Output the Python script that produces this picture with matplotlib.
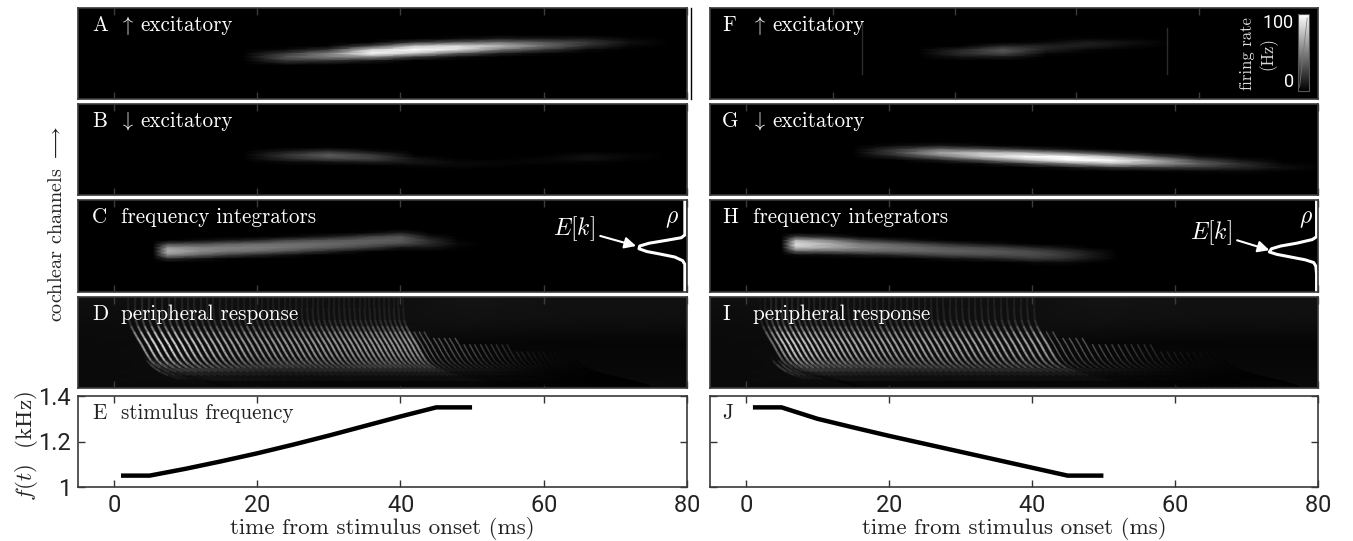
import numpy as np
from matplotlib import pyplot as plt
from matplotlib import cm, colors
from matplotlib.collections import LineCollection
from matplotlib.lines import Line2D

plt.rcParams["mathtext.fontset"] = "cm"
plt.rcParams["axes.formatter.use_mathtext"] = True
SERIF = "cmr10"
W, H = 1353, 541

# stimulus frequency (kHz)
up_t = [1, 5, 10, 15, 20, 25, 30, 35, 40, 45, 50]
up_f = [1.05, 1.05, 1.08, 1.113, 1.148, 1.186, 1.226, 1.268, 1.31, 1.35, 1.35]
down_t = [1, 5, 10, 15, 20, 25, 30, 35, 40, 45, 50]
down_f = [1.35, 1.35, 1.30, 1.262, 1.225, 1.19, 1.155, 1.12, 1.085, 1.05, 1.05]

# firing rates (Hz), one line per time step; channel = fraction of panel from top
a_t = [18, 24, 30, 36, 42, 48, 54, 60, 66, 72, 78]
a_ch = [.30, .34, .38, .42, .46, .50, .54, .58, .62]
a_rate = [
    [0, 0, 0, 0, 0, 1, 3, 2, 1],
    [0, 0, 0, 1, 6, 20, 30, 20, 6],
    [0, 0, 0, 4, 19, 43, 43, 19, 4],
    [0, 0, 3, 24, 68, 85, 45, 11, 1],
    [0, 3, 20, 64, 98, 64, 20, 3, 0],
    [1, 7, 32, 72, 72, 32, 7, 1, 0],
    [2, 12, 39, 60, 39, 12, 2, 0, 0],
    [2, 11, 30, 37, 20, 5, 1, 0, 0],
    [3, 11, 21, 17, 6, 1, 0, 0, 0],
    [2, 5, 8, 5, 2, 0, 0, 0, 0],
    [0, 1, 1, 1, 0, 0, 0, 0, 0],
]
b_t = [18, 24, 30, 36, 42, 48, 54, 60, 66, 72, 78]
b_ch = [.44, .48, .52, .56, .60, .64, .68, .72, .76]
b_rate = [
    [0, 0, 1, 2, 1, 0, 0, 0, 0],
    [0, 3, 10, 19, 16, 6, 1, 0, 0],
    [0, 4, 17, 32, 26, 9, 2, 0, 0],
    [0, 2, 7, 20, 24, 12, 3, 0, 0],
    [0, 0, 1, 3, 8, 10, 5, 1, 0],
    [0, 0, 0, 1, 3, 6, 6, 3, 1],
    [0, 0, 0, 1, 3, 5, 4, 1, 0],
    [0, 0, 0, 2, 5, 5, 2, 0, 0],
    [0, 0, 2, 7, 9, 5, 1, 0, 0],
    [0, 0, 2, 5, 5, 2, 0, 0, 0],
    [0, 0, 0, 1, 1, 0, 0, 0, 0],
]
f_t = [24, 30, 36, 42, 48, 54, 60, 66, 72, 78]
f_ch = [.30, .34, .38, .42, .46, .50, .54, .58, .62]
f_rate = [
    [0, 0, 0, 0, 0, 0, 0, 0, 0],
    [0, 0, 0, 1, 14, 17, 9, 2, 0],
    [0, 0, 3, 15, 30, 26, 11, 2, 0],
    [0, 1, 6, 14, 13, 6, 1, 0, 0],
    [1, 5, 12, 12, 5, 1, 0, 0, 0],
    [1, 4, 8, 6, 2, 0, 0, 0, 0],
    [0, 1, 3, 2, 1, 0, 0, 0, 0],
    [0, 0, 1, 1, 0, 0, 0, 0, 0],
    [0, 0, 0, 1, 2, 1, 0, 0, 0],
    [0, 0, 0, 1, 2, 1, 0, 0, 0],
]
g_t = [15, 21, 27, 33, 39, 45, 51, 57, 63, 69, 75, 81]
g_ch = [.42, .46, .50, .54, .58, .62, .66, .70, .74, .78]
g_rate = [
    [0, 0, 0, 0, 0, 0, 0, 0, 0, 0],
    [1, 7, 20, 24, 13, 3, 0, 0, 0, 0],
    [2, 11, 36, 55, 36, 11, 2, 0, 0, 0],
    [1, 6, 29, 65, 65, 29, 6, 1, 0, 0],
    [0, 3, 18, 59, 90, 59, 18, 3, 0, 0],
    [0, 1, 8, 40, 90, 90, 40, 8, 1, 0],
    [0, 0, 3, 18, 60, 92, 60, 18, 3, 0],
    [0, 0, 0, 6, 28, 57, 50, 20, 4, 1],
    [0, 0, 0, 1, 8, 25, 34, 20, 5, 1],
    [0, 0, 0, 0, 2, 9, 18, 15, 6, 1],
    [0, 0, 0, 0, 0, 1, 5, 8, 4, 1],
    [0, 0, 0, 0, 0, 0, 0, 2, 1, 0],
]
c_t = [5.5, 7.5, 12, 16, 20, 24, 28, 32, 36, 40, 44, 48, 52]
c_ch = [.32, .36, .40, .44, .48, .52, .56, .60, .64, .68, .72]
c_rate = [
    [0, 0, 0, 0, 0, 1, 2, 1, 0, 0, 0],
    [0, 0, 0, 3, 25, 50, 58, 46, 16, 3, 0],
    [0, 0, 0, 7, 27, 44, 46, 33, 9, 2, 0],
    [0, 0, 1, 11, 33, 43, 40, 22, 4, 0, 0],
    [0, 0, 2, 15, 36, 42, 36, 15, 2, 0, 0],
    [0, 0, 5, 24, 37, 39, 28, 8, 1, 0, 0],
    [0, 1, 9, 28, 37, 34, 19, 4, 0, 0, 0],
    [0, 2, 15, 31, 35, 28, 10, 1, 0, 0, 0],
    [1, 6, 24, 33, 31, 20, 4, 0, 0, 0, 0],
    [2, 13, 29, 32, 26, 9, 1, 0, 0, 0, 0],
    [0, 2, 9, 17, 16, 9, 2, 0, 0, 0, 0],
    [0, 0, 1, 4, 6, 4, 1, 0, 0, 0, 0],
    [0, 0, 0, 0, 0, 0, 0, 0, 0, 0, 0],
]
h_t = [5, 7, 12, 16, 20, 24, 28, 32, 36, 40, 44, 48, 52]
h_ch = [.36, .40, .44, .48, .52, .56, .60, .64, .68, .72]
h_rate = [
    [0, 0, 1, 3, 1, 0, 0, 0, 0, 0],
    [2, 21, 58, 72, 63, 31, 6, 1, 0, 0],
    [1, 12, 42, 56, 54, 32, 7, 1, 0, 0],
    [0, 4, 23, 41, 45, 34, 11, 2, 0, 0],
    [0, 2, 14, 34, 40, 34, 14, 2, 0, 0],
    [0, 1, 7, 26, 36, 34, 20, 4, 0, 0],
    [0, 0, 3, 17, 30, 33, 25, 8, 1, 0],
    [0, 0, 1, 11, 27, 32, 27, 11, 2, 0],
    [0, 0, 1, 7, 22, 30, 27, 15, 3, 0],
    [0, 0, 0, 3, 15, 26, 27, 20, 6, 1],
    [0, 0, 0, 1, 9, 19, 22, 18, 7, 1],
    [0, 0, 0, 0, 3, 10, 12, 10, 4, 1],
    [0, 0, 0, 0, 0, 1, 2, 2, 1, 0],
]

# dim floor of the peripheral panels
floor_t = [-5, 10, 25, 40, 50, 65, 80]
floor_ch = [0, .25, .5, .75, 1]
floor_level = [
    [6, 5, 4, 4, 4],
    [6, 6, 5, 5, 4],
    [6, 6, 5, 5, 4],
    [6, 6, 5, 5, 4],
    [8, 7, 3, 4, 4],
    [7, 6, 2, 3, 4],
    [7, 6, 2, 3, 4],
]

# peripheral stripes: crossing times at the top channels, and shape along the channels
shape_ch = [0, .12, .25, .32, .38, .45, .52, .6, .66, .7, .74, .78, .82, .86, .92, .98]
shape_dt = [0, 0, .1, .4, .8, 1.3, 1.85, 2.4, 2.85, 3.2, 3.7, 4.5, 5.8, 7.6, 11, 13.5]
shape_level = [.14, .16, .2, .32, .62, .8, .85, .8, .7, .58, .42, .28, .16, .1, .05, .02]
cross_ch = [.66, .70, .74, .78, .82, .86, .90, .95]
cross_dt = [-1.6, -1.2, -.7, -.1, .7, 1.8, 3.4, 5.5]
cross_level = [.03, .1, .22, .26, .2, .12, .07, .03]

d_stripes = [2.0, 2.95, 3.9, 4.85, 5.8, 6.73, 7.65, 8.56, 9.47, 10.37, 11.26, 12.15, 13.03, 13.9,
             14.77, 15.63, 16.48, 17.33, 18.17, 19.0, 19.83, 20.65, 21.46, 22.27, 23.07, 23.86,
             24.65, 25.43, 26.2, 26.97, 27.73, 28.48, 29.23, 29.97, 30.7, 31.43, 32.15, 32.87,
             33.58, 34.29, 34.99, 35.68, 36.37, 37.05, 37.73, 38.4, 39.07, 39.73, 40.39]
d_gain = [.7, .9, 1, 1, 1, .95, .95, .9, .9, .85, .85, .8, .8, .75, .75, .75, .7, .7, .7, .7,
          .7, .7, .7, .7, .7, .7, .7, .7, .7, .7, .7, .7, .7, .7, .7, .7, .7, .7, .7, .7,
          .7, .7, .7, .7, .7, .7, .7, .7, .65]
d_tail = [41.1, 41.8, 42.5, 43.3, 44, 44.8, 45.5, 46.3, 47, 47.8, 48.5, 49.3, 50, 50.8, 51.5,
          52.3, 53, 53.8, 54.5, 55.3, 56, 56.8, 57.5, 58.3, 59, 59.8, 60.5, 61.3]
d_tail_gain = [.45, .45, .42, .42, .4, .4, .38, .38, .35, .35, .3, .3, .26, .26, .24, .22, .2,
               .18, .16, .14, .12, .1, .09, .07, .06, .05, .04, .03]
d_tail_top = [.34, .36, .38, .40, .42, .43, .44, .45, .46, .47, .48, .49, .5, .5, .51, .52, .52,
              .53, .53, .54, .54, .55, .55, .56, .56, .57, .57, .58]

i_stripes = [2.0, 2.75, 3.5, 4.25, 5.0, 5.76, 6.52, 7.28, 8.05, 8.82, 9.59, 10.37, 11.15, 11.93,
             12.72, 13.51, 14.31, 15.11, 15.91, 16.72, 17.53, 18.35, 19.17, 20.0, 20.83, 21.66,
             22.5, 23.34, 24.19, 25.04, 25.9, 26.76, 27.63, 28.5, 29.38, 30.26, 31.15, 32.04,
             32.94, 33.84, 34.75, 35.66, 36.58, 37.5, 38.43, 39.36, 40.3]
i_gain = [.5, .7, .9, .95, .95, .9, .9, .9, .85, .85, .85, .85, .8, .8, .8, .8, .8, .8, .75, .75,
          .75, .75, .75, .75, .75, .75, .75, .75, .75, .75, .75, .75, .75, .75, .75, .75, .75,
          .75, .75, .75, .75, .75, .75, .75, .75, .75, .7]
i_tail = [41.2, 42.1, 43, 43.9, 44.8, 45.7, 46.6, 47.5, 48.4, 49.3, 50.2, 51.1, 52, 52.9, 53.8,
          54.7, 55.6, 56.5, 57.4, 58.3, 59.2, 60.1, 61, 61.9, 62.8, 63.7]
i_tail_gain = [.45, .45, .42, .42, .4, .4, .38, .36, .34, .32, .3, .28, .26, .24, .22, .2, .18,
               .16, .14, .12, .1, .08, .07, .06, .05, .03]
i_tail_top = [.34, .36, .39, .42, .44, .45, .46, .47, .48, .49, .5, .5, .51, .51, .52, .52, .53,
              .53, .54, .54, .55, .55, .56, .56, .57, .57]

# inset curve rho (time axis, channel fraction)
c_rho_t = [79.7, 79.7, 79.7, 79.4, 78.3, 76.4, 74.4, 73.3, 73.4, 74.7, 77, 79.2, 79.7, 79.7]
c_rho_ch = [1.0, .78, .70, .66, .62, .59, .56, .53, .50, .47, .44, .41, .38, 0.0]
h_rho_t = [79.8, 79.8, 79.7, 79.4, 78.2, 76.2, 74.2, 73.2, 73.5, 74.8, 77, 79.2, 79.8, 79.8]
h_rho_ch = [1.0, .80, .72, .68, .65, .62, .59, .565, .53, .50, .47, .43, .40, 0.0]

xticks_time = [0, 20, 40, 60, 80]
xticks_f = [12.2, 29.2, 46.2, 63.3]
yticks_f = [1, 1.2, 1.4]
ytick_labels = ["1", "1.2", "1.4"]
letters = ["A", "B", "C", "D", "E", "F", "G", "H", "I", "J"]
titles = [r"$\uparrow$ excitatory", r"$\downarrow$ excitatory", "frequency integrators",
          "peripheral response", "stimulus frequency"]


def panel(left, top, right, bottom):
    return fig.add_axes([left / W, 1 - bottom / H, (right - left) / W, (bottom - top) / H])


def show_grid(ax, t, ch, values, vmin=3, vmax=82):
    ax.pcolormesh(t, ch, np.array(values).T, cmap="gray", vmin=vmin, vmax=vmax, shading="gouraud")


def draw_family(ax, starts, gains, chs, dts, levels, tops=None, lw=1.35):
    segs, cols = [], []
    for k, (t0, g) in enumerate(zip(starts, gains)):
        for j in range(len(chs) - 1):
            if tops is not None and chs[j] < tops[k]:
                continue
            segs.append([(t0 + dts[j], chs[j]), (t0 + dts[j + 1], chs[j + 1])])
            cols.append(min(1, g * (levels[j] + levels[j + 1]) / 2))
    cols = np.array(cols)
    ax.add_collection(LineCollection(segs, colors=np.c_[cols, cols, cols, np.full(len(cols), .2)],
                                     linewidths=lw * 1.7, capstyle="butt"))
    ax.add_collection(LineCollection(segs, colors=np.c_[cols, cols, cols], linewidths=lw, capstyle="butt"))


def dress(ax, ticks=xticks_time):
    ax.set_xlim(-5, 80)
    ax.set_ylim(1, 0)
    ax.set_xticks(ticks)
    ax.set_yticks([])
    ax.tick_params(axis="x", direction="in", top=True, length=5, width=1, color="#3c3c3c", labelbottom=False)
    for s in ax.spines.values():
        s.set_color("#3a3a3a")
        s.set_linewidth(1.2)


def label(ax, letter, title, xl, color="white", y=.81):
    ax.text(xl, y, letter, transform=ax.transAxes, color=color, family=SERIF, fontsize=15.2, va="center")
    if title.startswith("$"):
        arrow, word = title.split(" ", 1)
        ax.text(.067, y, arrow, transform=ax.transAxes, color=color, fontsize=14.5, va="center")
        ax.text(.102, y, word, transform=ax.transAxes, color=color, family=SERIF, fontsize=15.2, va="center")
    else:
        ax.text(.0706, y, title, transform=ax.transAxes, color=color, family=SERIF, fontsize=15.2, va="center")


def peripheral(ax, stripes, gain, tail, tail_gain, tail_top):
    show_grid(ax, floor_t, floor_ch, floor_level, 0, 100)
    draw_family(ax, stripes[4:], gain[4:], cross_ch, cross_dt, cross_level)
    draw_family(ax, tail, tail_gain, cross_ch, cross_dt, cross_level, lw=.9)
    draw_family(ax, stripes, gain, shape_ch, shape_dt, shape_level)
    draw_family(ax, tail, tail_gain, shape_ch, shape_dt, shape_level, tail_top, lw=.9)


fig = plt.figure(figsize=(W / 100, H / 100), dpi=100)
rows = [(8, 99), (104, 195), (200, 292), (297, 388), (396, 487)]
cols = [(78, 687), (710, 1318)]

# left column
for i, (top, bot) in enumerate(rows[:4]):
    ax = panel(cols[0][0], top, cols[0][1], bot)
    ax.set_facecolor("black")
    if i == 0:
        show_grid(ax, a_t, a_ch, a_rate)
    elif i == 1:
        show_grid(ax, b_t, b_ch, b_rate)
    elif i == 2:
        show_grid(ax, c_t, c_ch, c_rate)
        ax.plot(c_rho_t, c_rho_ch, color="white", lw=2.2, solid_joinstyle="round")
        ax.text(77.9, .2, r"$\rho$", color="white", fontsize=17, ha="center", va="center")
        ax.annotate(r"$E[k]$", xy=(72.9, .50), xytext=(64.2, .31), color="white", fontsize=17, ha="center",
                    va="center", arrowprops=dict(arrowstyle="-|>", color="white", lw=1.5, shrinkA=2, shrinkB=0))
    else:
        peripheral(ax, d_stripes, d_gain, d_tail, d_tail_gain, d_tail_top)
    dress(ax)
    label(ax, letters[i], titles[i], .023)
fig.add_artist(Line2D([691 / W, 691 / W], [1 - 8 / H, 1 - 99 / H], color="black", lw=1))

# right column
for i, (top, bot) in enumerate(rows[:4]):
    ax = panel(cols[1][0], top, cols[1][1], bot)
    ax.set_facecolor("black")
    if i == 0:
        show_grid(ax, f_t, f_ch, f_rate)
        ax.plot([16.2, 16.2], [.15, .72], color="#2b2b2b", lw=1)
        ax.plot([58.9, 58.9], [.22, .72], color="#2b2b2b", lw=1)
    elif i == 1:
        show_grid(ax, g_t, g_ch, g_rate)
    elif i == 2:
        show_grid(ax, h_t, h_ch, h_rate)
        ax.plot(h_rho_t, h_rho_ch, color="white", lw=2.2, solid_joinstyle="round")
        ax.text(78.3, .2, r"$\rho$", color="white", fontsize=17, ha="center", va="center")
        ax.annotate(r"$E[k]$", xy=(73.2, .545), xytext=(65, .35), color="white", fontsize=17, ha="center",
                    va="center", arrowprops=dict(arrowstyle="-|>", color="white", lw=1.5, shrinkA=2, shrinkB=0))
    else:
        peripheral(ax, i_stripes, i_gain, i_tail, i_tail_gain, i_tail_top)
    dress(ax, xticks_f if i == 0 else xticks_time)
    label(ax, letters[i + 5], titles[i], .02)
    if i == 0:
        cax = ax.inset_axes([.967, .088, .018, .846])
        cb = fig.colorbar(cm.ScalarMappable(colors.Normalize(0, 100), cmap="gray"), cax=cax)
        cb.set_ticks([0, 100])
        cb.ax.yaxis.set_ticks_position("left")
        cb.ax.tick_params(length=0, labelcolor="white", labelsize=13, pad=3)
        for tl in cb.ax.get_yticklabels():
            tl.set_family("Roboto")
        cb.ax.get_yticklabels()[0].set_va("bottom")
        cb.ax.get_yticklabels()[1].set_va("top")
        cb.outline.set_edgecolor("#555555")
        cb.outline.set_linewidth(.8)
        cax.plot([.15, .85], [5, 95], color="#777777", lw=.5)
        ax.text(.883, .5, "firing rate", transform=ax.transAxes, rotation=90, color="#dddddd", family=SERIF,
                fontsize=12, ha="center", va="center")
        ax.text(.918, .5, "(Hz)", transform=ax.transAxes, rotation=90, color="#dddddd", family=SERIF,
                fontsize=12, ha="center", va="center")

# stimulus panels
ax = panel(cols[0][0], rows[4][0], cols[0][1], rows[4][1])
ax.plot(up_t, up_f, color="black", lw=3.2, solid_capstyle="butt", solid_joinstyle="miter")
ax2 = panel(cols[1][0], rows[4][0], cols[1][1], rows[4][1])
ax2.plot(down_t, down_f, color="black", lw=3.2, solid_capstyle="butt", solid_joinstyle="miter")
for a in (ax, ax2):
    a.set_xlim(-5, 80)
    a.set_ylim(1, 1.4)
    a.set_xticks(xticks_time)
    a.set_yticks(yticks_f)
    a.tick_params(direction="in", top=True, right=True, length=5, width=1, color="#333333", labelsize=17,
                  labelcolor="#222222", pad=5)
    for tl in a.get_xticklabels() + a.get_yticklabels():
        tl.set_family("Roboto")
    a.set_xlabel("time from stimulus onset (ms)", family=SERIF, fontsize=16.6, labelpad=0, color="#222222")
    for s in a.spines.values():
        s.set_color("#3a3a3a")
        s.set_linewidth(1.2)
ax.set_yticklabels(ytick_labels, family="Roboto")
ax2.set_yticklabels([])
label(ax, letters[4], titles[4], .023, color="#222222")
ax2.text(.02, .81, letters[9], transform=ax2.transAxes, family=SERIF, fontsize=15.2, va="center", color="#222222")

fig.text(27 / W, 1 - 446 / H, r"$f(t)$  (kHz)", rotation=90, family=SERIF, fontsize=16.6, ha="center",
         va="center", color="#222222")
fig.text(57 / W, 1 - 224 / H, r"cochlear channels $\longrightarrow$", rotation=90, family=SERIF, fontsize=14.5,
         ha="center", va="center", color="#222222")

fig.savefig("out.png", dpi=100)
